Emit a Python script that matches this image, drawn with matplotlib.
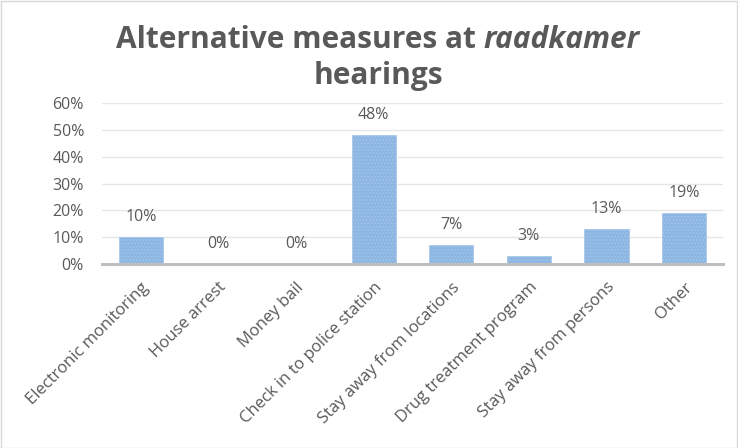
import matplotlib
matplotlib.use('Agg')
import matplotlib.pyplot as plt
from matplotlib.ticker import PercentFormatter
from matplotlib.patches import Rectangle

# ─── Data ────────────────────────────────────────────────────────────────────
CATEGORIES = ['Electronic monitoring', 'House arrest', 'Money bail',
              'Check in to police station', 'Stay away from locations',
              'Drug treatment program', 'Stay away from persons', 'Other']
VALUES = [10, 0, 0, 48, 7, 3, 13, 19]
Y_TICKS = [0, 10, 20, 30, 40, 50, 60]

BAR_COLOR = '#8DB5E2'
TEXT_COLOR = '#595959'
FONT = 'Open Sans'

plt.rcParams['font.family'] = [FONT, 'DejaVu Sans']

fig = plt.figure(figsize=(7.38, 4.48), dpi=100)
W, H = 738, 448
ax = fig.add_axes([102 / W, 1 - 264 / H, (723 - 102) / W, (264 - 103) / H])

x = range(len(CATEGORIES))
bars = ax.bar(x, VALUES, width=0.57, color=BAR_COLOR, edgecolor='#A9C8EA',
              linewidth=0.6, hatch='.....', zorder=2)
for b in bars:
    b._hatch_color = (0.62, 0.77, 0.92, 1.0)

for xi, v in zip(x, VALUES):
    ax.annotate(f'{v}%', (xi, v), xytext=(0, 14.5), textcoords='offset points',
                ha='center', va='center', fontsize=11.5, color=TEXT_COLOR)

ax.set_xlim(-0.5, len(CATEGORIES) - 0.5)
ax.set_ylim(0, 60)
ax.set_yticks(Y_TICKS)
ax.yaxis.set_major_formatter(PercentFormatter(decimals=0))
ax.grid(axis='y', color='#E6E6E6', linewidth=1, zorder=0)
ax.set_axisbelow(True)

ax.set_xticks(list(x))
ax.set_xticklabels(CATEGORIES, rotation=45, ha='right', rotation_mode='anchor',
                   fontsize=12, color=TEXT_COLOR)
ax.tick_params(axis='x', length=0, pad=11)
ax.tick_params(axis='y', length=0, pad=13, labelsize=11.5, labelcolor=TEXT_COLOR)

for sp in ['top', 'right', 'left']:
    ax.spines[sp].set_visible(False)
ax.spines['bottom'].set_color('#BFBFBF')
ax.spines['bottom'].set_linewidth(2.2)

# ─── Title with italic word ──────────────────────────────────────────────────
title_kw = dict(fontsize=21.5, fontweight='bold', color=TEXT_COLOR,
                va='center', transform=None)
fig.canvas.draw()
r = fig.canvas.get_renderer()
t1 = fig.text(0, 0, 'Alternative measures at ', ha='left', **title_kw)
t2 = fig.text(0, 0, 'raadkamer', ha='left', style='italic', **title_kw)
w1 = t1.get_window_extent(r).width
w2 = t2.get_window_extent(r).width
cx, y1 = 378, H - 40
start = cx - (w1 + w2) / 2
t1.set_position((start, y1))
t2.set_position((start + w1, y1))
fig.text(cx, H - 76, 'hearings', ha='center', **title_kw)

# chart border
fig.patches.append(Rectangle((0.5 / W, 0.5 / H), 1 - 1.5 / W, 1 - 1.5 / H,
                             transform=fig.transFigure, fill=False,
                             edgecolor='#D9D9D9', linewidth=1))

fig.savefig('out.png', dpi=100)
